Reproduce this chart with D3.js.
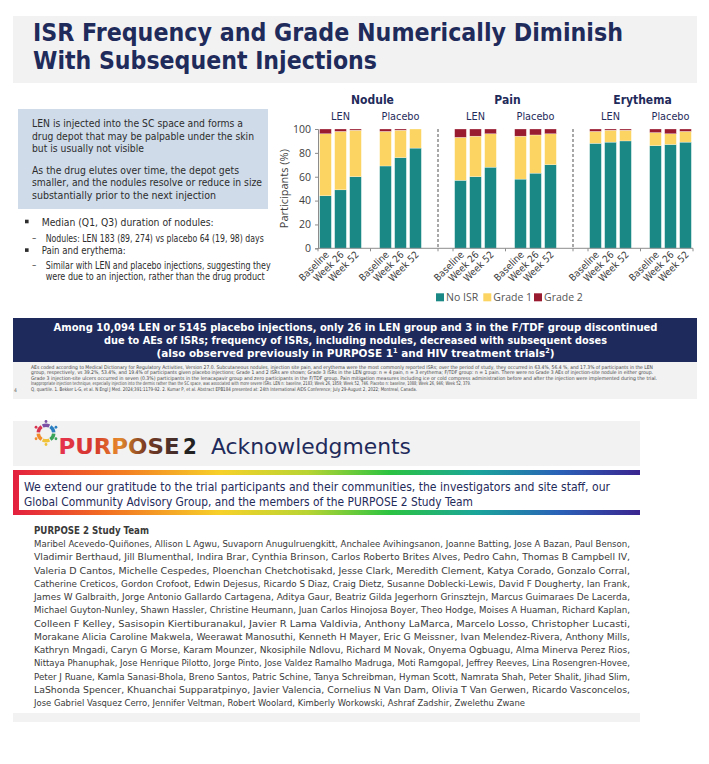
<!DOCTYPE html>
<html><head><meta charset="utf-8">
<script src="https://cdn.jsdelivr.net/npm/d3@7"></script>
<style>
html,body{margin:0;padding:0;background:#fff;}
svg{display:block;}
</style></head><body>
<svg id="c" width="709" height="764"></svg>
<script>
// ---------------- DATA ----------------
const panels = ["Nodule", "Pain", "Erythema"];
const arms = ["LEN", "Placebo"];
const timepoints = ["Baseline", "Week 26", "Week 52"];
const gradeKeys = ["No ISR", "Grade 1", "Grade 2"];
// percentages, order: panel > arm > timepoint
const noIsr  = [44, 49, 60, 69, 76, 84, 57, 60, 68, 58, 63, 70, 88, 89, 90, 86, 87, 89];
const grade1 = [52, 49, 39, 29, 23, 16, 36, 34, 28, 36, 32, 26, 10, 10, 9, 11, 9, 9];
const grade2 = [4, 2, 1, 2, 1, 0, 7, 6, 4, 6, 5, 4, 2, 1, 1, 3, 4, 2];
const yTicks = [0, 20, 40, 60, 80, 100];

const titleLines = ["ISR Frequency and Grade Numerically Diminish", "With Subsequent Injections"];
const boxLines = ["LEN is injected into the SC space and forms a",
  "drug depot that may be palpable under the skin",
  "but is usually not visible",
  "As the drug elutes over time, the depot gets",
  "smaller, and the nodules resolve or reduce in size",
  "substantially prior to the next injection"];
const bulletLines = [
  {lvl: 1, t: "Median (Q1, Q3) duration of nodules:"},
  {lvl: 2, t: "Nodules: LEN 183 (89, 274) vs placebo 64 (19, 98) days"},
  {lvl: 1, t: "Pain and erythema:"},
  {lvl: 2, t: "Similar with LEN and placebo injections, suggesting they"},
  {lvl: 3, t: "were due to an injection, rather than the drug product"}];
const bannerLines = ["Among 10,094 LEN or 5145 placebo injections, only 26 in LEN group and 3 in the F/TDF group discontinued",
  "due to AEs of ISRs; frequency of ISRs, including nodules, decreased with subsequent doses"];
const footLines = [
  "AEs coded according to Medical Dictionary for Regulatory Activities, Version 27.0. Subcutaneous nodules, injection site pain, and erythema were the most commonly reported ISRs; over the period of study, they occurred in 63.4%, 56.4 %, and 17.3% of participants in the LEN",
  "group, respectively, vs 39.2%, 53.4%, and 19.4% of participants given placebo injections; Grade 1 and 2 ISRs are shown; Grade 3 ISRs in the LEN group: n = 4 pain, n = 3 erythema; F/TDF group: n = 1 pain. There were no Grade 3 AEs of injection-site nodule in either group.",
  "Grade 3 injection-site ulcers occurred in seven (0.3%) participants in the lenacapavir group and zero participants in the F/TDF group. Pain mitigation measures including ice or cold compress administration before and after the injection were implemented during the trial.",
  "Inappropriate injection technique, especially injection into the dermis rather than the SC space, was associated with more severe ISRs. LEN n: baseline, 2183; Week 26, 1859; Week 52, 746. Placebo n: baseline, 1088; Week 26, 946; Week 52, 379.",
  "Q, quartile. 1. Bekker L-G, et al. N Engl J Med. 2024;391:1179-92. 2. Kumar P, et al. Abstract EPB184 presented at: 24th International AIDS Conference; July 29-August 2, 2022; Montreal, Canada."];
const thanksLines = ["We extend our gratitude to the trial participants and their communities, the investigators and site staff, our",
  "Global Community Advisory Group, and the members of the PURPOSE 2 Study Team"];
const studyTeam = [
  "Maribel Acevedo-Quiñones, Allison L Agwu, Suvaporn Anugulruengkitt, Anchalee Avihingsanon, Joanne Batting, Jose A Bazan, Paul Benson,",
  "Vladimir Berthaud, Jill Blumenthal, Indira Brar, Cynthia Brinson, Carlos Roberto Brites Alves, Pedro Cahn, Thomas B Campbell IV,",
  "Valeria D Cantos, Michelle Cespedes, Ploenchan Chetchotisakd, Jesse Clark, Meredith Clement, Katya Corado, Gonzalo Corral,",
  "Catherine Creticos, Gordon Crofoot, Edwin Dejesus, Ricardo S Diaz, Craig Dietz, Susanne Doblecki-Lewis, David F Dougherty, Ian Frank,",
  "James W Galbraith, Jorge Antonio Gallardo Cartagena, Aditya Gaur, Beatriz Gilda Jegerhorn Grinsztejn, Marcus Guimaraes De Lacerda,",
  "Michael Guyton-Nunley, Shawn Hassler, Christine Heumann, Juan Carlos Hinojosa Boyer, Theo Hodge, Moises A Huaman, Richard Kaplan,",
  "Colleen F Kelley, Sasisopin Kiertiburanakul, Javier R Lama Valdivia, Anthony LaMarca, Marcelo Losso, Christopher Lucasti,",
  "Morakane Alicia Caroline Makwela, Weerawat Manosuthi, Kenneth H Mayer, Eric G Meissner, Ivan Melendez-Rivera, Anthony Mills,",
  "Kathryn Mngadi, Caryn G Morse, Karam Mounzer, Nkosiphile Ndlovu, Richard M Novak, Onyema Ogbuagu, Alma Minerva Perez Rios,",
  "Nittaya Phanuphak, Jose Henrique Pilotto, Jorge Pinto, Jose Valdez Ramalho Madruga, Moti Ramgopal, Jeffrey Reeves, Lina Rosengren-Hovee,",
  "Peter J Ruane, Kamla Sanasi-Bhola, Breno Santos, Patric Schine, Tanya Schreibman, Hyman Scott, Namrata Shah, Peter Shalit, Jihad Slim,",
  "LaShonda Spencer, Khuanchai Supparatpinyo, Javier Valencia, Cornelius N Van Dam, Olivia T Van Gerwen, Ricardo Vasconcelos,",
  "Jose Gabriel Vasquez Cerro, Jennifer Veltman, Robert Woolard, Kimberly Workowski, Ashraf Zadshir, Zwelethu Zwane"];

// ---------------- STYLE ----------------
const F = "'DejaVu Sans Condensed','DejaVu Sans',sans-serif";
const F2 = "'Open Sans','Noto Sans',sans-serif";
const NAVY = "#1f2b5b";
const colors = {"No ISR": "#1a8985", "Grade 1": "#fbd462", "Grade 2": "#991b30"};

const svg = d3.select("#c");
function fit(sel, w) { if (w) sel.attr("textLength", w).attr("lengthAdjust", "spacingAndGlyphs"); return sel; }
function txt(g, x, y, s, size, opts = {}) {
  const t = g.append("text").attr("x", x).attr("y", y).text(s)
    .attr("font-family", opts.family || F).attr("font-size", size)
    .attr("font-weight", opts.weight || "normal").attr("fill", opts.fill || "#333")
    .attr("text-anchor", opts.anchor || "start");
  if (opts.style) t.attr("font-style", opts.style);
  return fit(t, opts.w);
}

// ---------------- TOP TITLE ----------------
svg.append("rect").attr("x", 13).attr("y", 16).attr("width", 684).attr("height", 67).attr("fill", "#f2f2f2");
const titleW = [590, 344];
titleLines.forEach((s, i) => txt(svg, 33, 41 + i * 28, s, 24, {weight: "bold", fill: NAVY, w: titleW[i]}));

// ---------------- LEFT TEXT ----------------
svg.append("rect").attr("x", 18).attr("y", 109).attr("width", 250).attr("height", 100).attr("fill", "#cfdbe9");
const boxW = [211, 222, 112, 207, 230, 184];
const boxY = [127.3, 139.8, 152, 173.7, 186.2, 198.5];
boxLines.forEach((s, i) => txt(svg, 32, boxY[i], s, 10.8, {fill: "#2d2d2d", w: boxW[i]}));

const bulY = [225.7, 241.7, 254.3, 268.5, 280];
const bulW = [172, 218, 84, 225, 219];
bulletLines.forEach((b, i) => {
  if (b.lvl === 1) {
    svg.append("rect").attr("x", 25).attr("y", bulY[i] - 6).attr("width", 3.6).attr("height", 3.6).attr("fill", "#2d2d2d");
    txt(svg, 41.7, bulY[i], b.t, 11, {fill: "#2d2d2d", w: bulW[i]});
  } else {
    if (b.lvl === 2) txt(svg, 32, bulY[i] - 1, "–", 9.5, {fill: "#2d2d2d"});
    txt(svg, 45.7, bulY[i], b.t, 9.6, {fill: "#2d2d2d", w: bulW[i]});
  }
});

// ---------------- CHART ----------------
const rows = noIsr.map((v, i) => ({
  panel: panels[Math.floor(i / 6)], arm: arms[Math.floor(i / 3) % 2], tp: timepoints[i % 3],
  "No ISR": v, "Grade 1": grade1[i], "Grade 2": grade2[i]
}));
rows.forEach(r => r.key = r.panel + "|" + r.arm + "|" + r.tp);
const domain = [];
panels.forEach((p, pi) => {
  arms.forEach((a, ai) => {
    timepoints.forEach(t => domain.push(p + "|" + a + "|" + t));
    if (ai === 0) domain.push(p + "|gap");
  });
  if (pi < panels.length - 1) { domain.push(p + "|sepA"); domain.push(p + "|sepB"); }
});
const x = d3.scaleBand().domain(domain).range([318, 693]).paddingInner(0.22).paddingOuter(0.11);
const y = d3.scaleLinear().domain([0, 100]).range([248.3, 129]);
const chart = svg.append("g");

const stack = d3.stack().keys(gradeKeys)(rows);
chart.selectAll("g.layer").data(stack).join("g").attr("class", "layer")
  .attr("fill", d => colors[d.key])
  .selectAll("rect").data(d => d).join("rect")
  .attr("x", d => x(d.data.key)).attr("width", x.bandwidth())
  .attr("y", d => y(d[1])).attr("height", d => Math.max(0, y(d[0]) - y(d[1])))
  .attr("stroke", "#fff").attr("stroke-width", 0.4).attr("stroke-opacity", 0.7);

// y axis
const yAxis = chart.append("g").attr("transform", "translate(318,0)")
  .call(d3.axisLeft(y).tickValues(yTicks).tickSize(3).tickPadding(4));
yAxis.select(".domain").attr("stroke", "#8c8c8c");
yAxis.selectAll(".tick line").attr("stroke", "#8c8c8c");
yAxis.selectAll("text").attr("font-family", F2).attr("font-size", 10.5).attr("fill", "#404040");
chart.append("text").attr("transform", `translate(287.5,${y(50)}) rotate(-90)`)
  .attr("text-anchor", "middle").attr("font-family", F2).attr("font-size", 11).attr("fill", "#404040")
  .text("Participants (%)");

// x axis
const xAxisY = y(0);
const step = x.step();
chart.append("line").attr("x1", 318).attr("x2", 693).attr("y1", xAxisY).attr("y2", xAxisY).attr("stroke", "#8c8c8c");
const boundaries = [];
panels.forEach((p, pi) => {
  const first = x(p + "|LEN|Baseline") - step * x.paddingInner() / 2;
  boundaries.push(first);
  boundaries.push(x(p + "|gap") + x.bandwidth() / 2);
});
boundaries.push(693);
const dividers = panels.slice(0, -1).map(p => (x(p + "|sepA") + x.bandwidth() + x(p + "|sepB")) / 2);
chart.selectAll("line.xt").data(boundaries.concat(dividers)).join("line").attr("class", "xt")
  .attr("x1", d => d).attr("x2", d => d).attr("y1", xAxisY).attr("y2", xAxisY + 3).attr("stroke", "#8c8c8c");
chart.selectAll("line.div").data(dividers).join("line").attr("class", "div")
  .attr("x1", d => d).attr("x2", d => d).attr("y1", y(100)).attr("y2", xAxisY)
  .attr("stroke", "#7a7a7a").attr("stroke-width", 1.3).attr("stroke-dasharray", "3,2");
chart.selectAll("text.xl").data(rows).join("text").attr("class", "xl")
  .attr("transform", d => `translate(${x(d.key) + x.bandwidth() / 2 + 4},${xAxisY + 7}) rotate(-45)`)
  .attr("text-anchor", "end").attr("font-family", F).attr("font-size", 9.8).attr("fill", "#404040")
  .text(d => d.tp);

// panel & arm headers
panels.forEach(p => {
  const cL = x(p + "|LEN|Week 26") + x.bandwidth() / 2;
  const cP = x(p + "|Placebo|Week 26") + x.bandwidth() / 2;
  txt(chart, (cL + cP) / 2 + 2, 104, p, 12, {weight: "bold", fill: NAVY, anchor: "middle"});
  txt(chart, cL, 119.5, "LEN", 10.8, {fill: NAVY, anchor: "middle"});
  txt(chart, cP, 119.5, "Placebo", 10.8, {fill: NAVY, anchor: "middle"});
});

// legend
const legX = [436, 483.3, 534];
const lg = chart.selectAll("g.leg").data(gradeKeys).join("g").attr("class", "leg")
  .attr("transform", (d, i) => `translate(${legX[i]},293.3)`);
lg.append("rect").attr("width", 8).attr("height", 8).attr("fill", d => colors[d]);
lg.append("text").attr("x", 10).attr("y", 7.6).attr("font-family", F2).attr("font-size", 10.5)
  .attr("fill", "#555").text(d => d);

// ---------------- BANNER ----------------
svg.append("rect").attr("x", 13).attr("y", 318).attr("width", 684).attr("height", 44).attr("fill", "#1e2a5c");
const banW = [604, 503];
bannerLines.forEach((s, i) => txt(svg, 355.5, 331 + i * 13.2, s, 11.2, {weight: "bold", fill: "#fff", anchor: "middle", w: banW[i]}));
const l3 = svg.append("text").attr("x", 355.5).attr("y", 357.4).attr("text-anchor", "middle")
  .attr("font-family", F).attr("font-size", 11.2).attr("font-weight", "bold").attr("fill", "#fff");
l3.append("tspan").text("(also observed previously in PURPOSE 1");
l3.append("tspan").attr("dy", -4).attr("font-size", 7).text("1");
l3.append("tspan").attr("dy", 4).text(" and HIV treatment trials");
l3.append("tspan").attr("dy", -4).attr("font-size", 7).text("2");
l3.append("tspan").attr("dy", 4).text(")");
fit(l3, 398);

svg.append("rect").attr("x", 13).attr("y", 362).attr("width", 684).attr("height", 37).attr("fill", "#f2f2f2");
const footW = [622, 622, 626, 440, 386];
footLines.forEach((s, i) => txt(svg, 31, 368.5 + i * 5.6, s, 5, {fill: "#444", w: footW[i]}));
txt(svg, 14, 391.5, "4", 5, {fill: "#666"});

// ---------------- ACKNOWLEDGMENTS ----------------
svg.append("rect").attr("x", 13).attr("y", 421).attr("width", 627).attr("height", 45).attr("fill", "#f2f2f2");
// logo: ring of colored figures
const logoColors = ["#7b4fa3", "#2b7fc1", "#3aa35a", "#f0c238", "#f08c2c", "#d8344f"];
const logo = svg.append("g").attr("transform", "translate(46,433)");
logoColors.forEach((c, i) => {
  const a = (i * 60 - 90) * Math.PI / 180;
  logo.append("path")
    .attr("d", d3.arc()({innerRadius: 6, outerRadius: 9.5, startAngle: a + Math.PI / 2 - 0.45, endAngle: a + Math.PI / 2 + 0.45}))
    .attr("fill", c);
  logo.append("circle").attr("cx", Math.cos(a) * 11.5).attr("cy", Math.sin(a) * 11.5).attr("r", 1.4).attr("fill", c);
});
const defs = svg.append("defs");
const pg = defs.append("linearGradient").attr("id", "pg").attr("x1", "0").attr("x2", "1");
[["0", "#e6334f"], ["0.3", "#d4372b"], ["0.5", "#e5892c"], ["0.72", "#7a3b22"], ["1", "#3c2b2b"]]
  .forEach(s => pg.append("stop").attr("offset", s[0]).attr("stop-color", s[1]));
txt(svg, 58.5, 454, "PURPOSE", 22, {weight: "bold", fill: "url(#pg)", w: 121});
txt(svg, 183, 454, "2", 22, {weight: "bold", fill: "#222"});
txt(svg, 211, 454, "Acknowledgments", 22, {fill: NAVY, w: 200});

const rg = defs.append("linearGradient").attr("id", "rg").attr("x1", "0").attr("x2", "1");
[["0", "#e3203f"], ["0.14", "#f26b22"], ["0.33", "#f7d12a"], ["0.47", "#b8d433"], ["0.6", "#2cc341"],
 ["0.74", "#1aa59a"], ["0.87", "#2a62b8"], ["1", "#3b258f"]]
  .forEach(s => rg.append("stop").attr("offset", s[0]).attr("stop-color", s[1]));
svg.append("rect").attr("x", 13).attr("y", 470).attr("width", 627).attr("height", 45).attr("fill", "url(#rg)");
svg.append("rect").attr("x", 19).attr("y", 475).attr("width", 621).attr("height", 35).attr("fill", "#fff");
const thW = [586, 449];
thanksLines.forEach((s, i) => txt(svg, 24, 491 + i * 14.5, s, 12.3, {fill: NAVY, w: thW[i]}));

txt(svg, 34, 534, "PURPOSE 2 Study Team", 11, {weight: "bold", fill: "#3a3a3a", w: 115});
studyTeam.forEach((s, i) => {
  const last = i === studyTeam.length - 1;
  txt(svg, 34, 547 + i * 13.25, s, 9.4, {fill: "#3a3a3a", w: last ? 491 : 596});
});
svg.append("rect").attr("x", 13).attr("y", 713).attr("width", 627).attr("height", 9).attr("fill", "#f2f2f2");
</script>
</body></html>
